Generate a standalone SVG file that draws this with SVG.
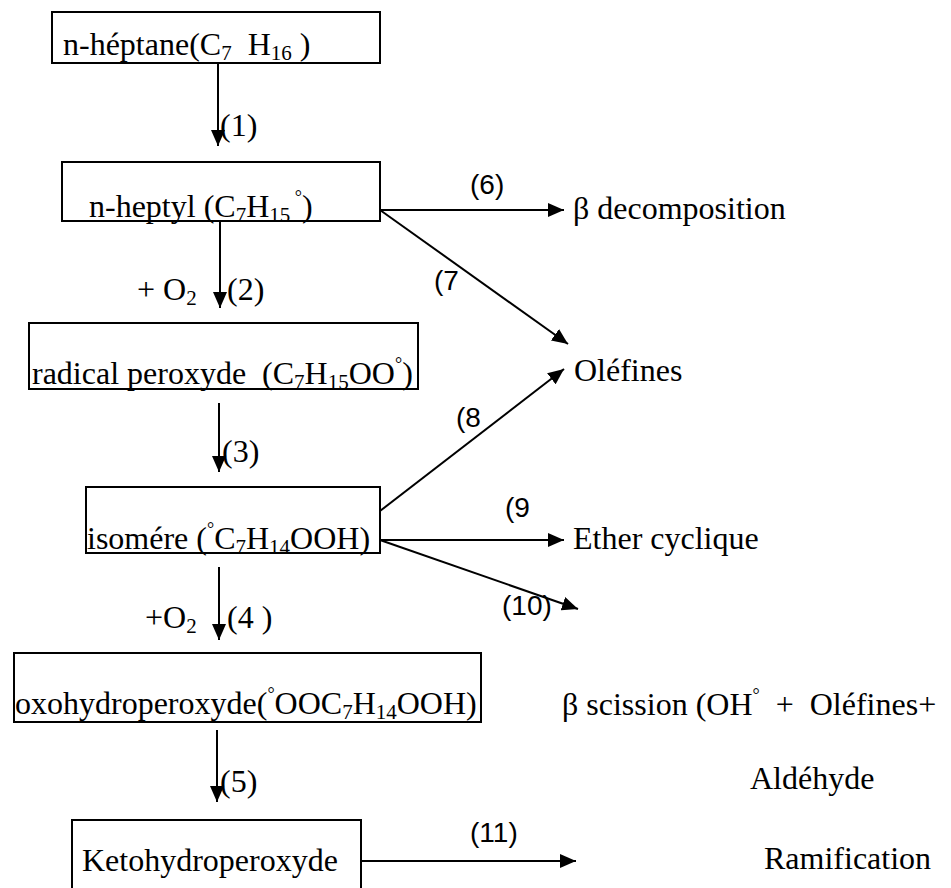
<svg xmlns="http://www.w3.org/2000/svg" width="951" height="888" viewBox="0 0 951 888">
<style>
.box{fill:#fff;stroke:#000;stroke-width:2}
.t{font-family:"Liberation Serif","Times New Roman",serif;font-size:32px;fill:#000;white-space:pre}
.s{font-family:"Liberation Sans",Arial,sans-serif;font-size:28px;fill:#000;white-space:pre}
.sub{font-size:21px}
.deg{font-size:18px}
.c line{stroke:#000;stroke-width:2;marker-end:url(#ah)}
</style>
<defs>
<marker id="ah" markerUnits="userSpaceOnUse" markerWidth="17" markerHeight="14" refX="16" refY="7" orient="auto">
<path d="M0,0 L16,7 L0,14 z" fill="#000"/>
</marker>
</defs>
<rect width="951" height="888" fill="#fff"/>

<g id="n-heptane">
<rect class="box" x="52" y="12" width="328" height="51"/>
<text class="t" x="63" y="55">n-héptane(C<tspan class="sub" dy="5">7</tspan><tspan dy="-5">  H</tspan><tspan class="sub" dy="5">16</tspan><tspan dy="-5"> )</tspan></text>
</g>

<g id="n-heptyl">
<rect class="box" x="62" y="162" width="318" height="59"/>
<text class="t" x="89" y="217">n-heptyl (C<tspan class="sub" dy="5">7</tspan><tspan dy="-5">H</tspan><tspan class="sub" dy="5">15</tspan><tspan class="deg" dy="-19"> °</tspan><tspan dy="14">)</tspan></text>
</g>

<g id="radical-peroxyde">
<rect class="box" x="29" y="323" width="389" height="66"/>
<text class="t" x="32" y="384">radical peroxyde  (C<tspan class="sub" dy="5">7</tspan><tspan dy="-5">H</tspan><tspan class="sub" dy="5">15</tspan><tspan dy="-5">OO</tspan><tspan class="deg" dy="-14">°</tspan><tspan dy="14">)</tspan></text>
</g>

<g id="isomere">
<rect class="box" x="86" y="487" width="294" height="66"/>
<text class="t" x="87" y="549">isomére (<tspan class="deg" dy="-14">°</tspan><tspan dy="14">C</tspan><tspan class="sub" dy="5">7</tspan><tspan dy="-5">H</tspan><tspan class="sub" dy="5">14</tspan><tspan dy="-5">OOH)</tspan></text>
</g>

<g id="oxohydroperoxyde">
<rect class="box" x="14" y="653" width="467" height="69"/>
<text class="t" x="15" y="714">oxohydroperoxyde(<tspan class="deg" dy="-14">°</tspan><tspan dy="14">OOC</tspan><tspan class="sub" dy="5">7</tspan><tspan dy="-5">H</tspan><tspan class="sub" dy="5">14</tspan><tspan dy="-5">OOH)</tspan></text>
</g>

<g id="ketohydroperoxyde">
<rect class="box" x="72" y="820" width="289" height="80"/>
<text class="t" x="82" y="871">Ketohydroperoxyde</text>
</g>

<g id="beta-decomposition"><text class="t" x="573" y="219">β decomposition</text></g>
<g id="olefines"><text class="t" x="574" y="381">Oléfines</text></g>
<g id="ether-cyclique"><text class="t" x="573" y="549">Ether cyclique</text></g>
<g id="beta-scission"><text class="t" x="562" y="715">β scission (OH<tspan class="deg" dy="-14">°</tspan><tspan dy="14">  +  Oléfines+</tspan></text></g>
<g id="aldehyde"><text class="t" x="750" y="789">Aldéhyde</text></g>
<g id="ramification"><text class="t" x="764" y="869">Ramification</text></g>

<g id="connectors" class="c">
<line x1="218" y1="63" x2="218" y2="146"/>
<line x1="220" y1="222" x2="220" y2="308"/>
<line x1="219" y1="403" x2="219" y2="472"/>
<line x1="219" y1="567" x2="219" y2="640"/>
<line x1="217" y1="730" x2="217" y2="802"/>
<line x1="380" y1="210" x2="564" y2="210"/>
<line x1="380" y1="210" x2="568" y2="344"/>
<line x1="380" y1="511" x2="564" y2="369"/>
<line x1="380" y1="540" x2="564" y2="540"/>
<line x1="380" y1="540" x2="578" y2="609"/>
<line x1="361" y1="861" x2="576" y2="861"/>
</g>

<g id="labels">
<text class="t" x="220" y="136">(1)</text>
<text class="t" x="137" y="300">+ O<tspan class="sub" dy="5">2</tspan></text>
<text class="t" x="227" y="300">(2)</text>
<text class="t" x="222" y="462">(3)</text>
<text class="t" x="145" y="628">+O<tspan class="sub" dy="5">2</tspan></text>
<text class="t" x="227" y="628">(4 )</text>
<text class="t" x="220" y="792">(5)</text>
<text class="s" x="470" y="194">(6)</text>
<text class="s" x="434" y="290">(7</text>
<text class="s" x="456" y="427">(8</text>
<text class="s" x="505" y="517">(9</text>
<text class="s" x="502" y="615">(10)</text>
<text class="s" x="470" y="842">(11)</text>
</g>
</svg>
